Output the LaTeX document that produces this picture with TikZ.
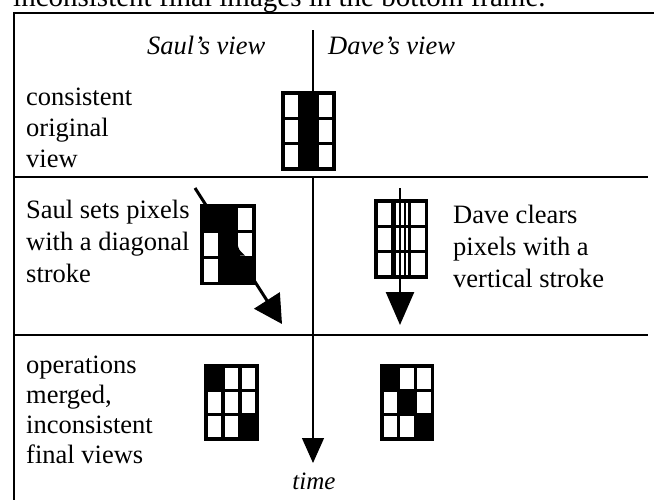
\documentclass[tikz,border=0pt]{standalone}
\usepackage{fontspec}
\setmainfont{Liberation Serif}
\usetikzlibrary{arrows.meta}
\newcommand\pixgrid[5]{%
  \foreach \c [count=\i from 0] in {#5} {
    \pgfmathtruncatemacro\col{mod(\i,3)}
    \pgfmathtruncatemacro\row{div(\i,3)}
    \filldraw[fill=\c, draw=black, line width=3.2pt]
      ({#1+\col*#3},{#2+\row*#4}) rectangle ++(#3,#4);
  }}
\begin{document}
\begin{tikzpicture}[x=1pt,y=-1pt,
  lbl/.style={anchor=base west, inner sep=0pt, font=\fontsize{26.5}{31}\selectfont},
  hdr/.style={anchor=base west, inner sep=0pt, font=\fontsize{26.5}{31}\selectfont\itshape},
  frameline/.style={line width=2.6pt},
  divline/.style={line width=1.8pt},
  thinline/.style={line width=1.2pt},
  stroke/.style={line width=3pt}]
\useasboundingbox (0,0) rectangle (654,499);
\clip (0,0) rectangle (654,499);

% caption text cut by the top edge (as in the reference)
\node[anchor=base west, inner sep=0pt, font=\fontsize{29}{34}\selectfont] (cap) at (13,6) {inconsistent final images in the bottom frame.};

% frame
\coordinate (fTL) at (14,13);
\coordinate (fTR) at (660,13);
\coordinate (fBL) at (14,505);
\draw[frameline] (fBL) -- (fTL) -- (fTR);
\coordinate (d1L) at (14,177);
\coordinate (d1R) at (648,177);
\coordinate (d2L) at (14,335);
\coordinate (d2R) at (648,335);
\draw[divline] (d1L) -- (d1R);
\draw[divline] (d2L) -- (d2R);

% headers
\node[hdr] (saulv) at (147,54) {Saul's view};
\node[hdr] (davev) at (328,54) {Dave's view};
\coordinate (sepT) at (313,30);
\coordinate (sepB) at (313,98);
\draw[thinline] (sepT) -- (sepB);

% row 1
\node[lbl] (c1) at (26,105.5) {consistent};
\node[lbl] (c2) at (26,136.5) {original};
\node[lbl] (c3) at (26,167.5) {view};
\pixgrid{283}{93}{17}{25.3}{white,black,white,white,black,white,white,black,white}

% row 2
\node[lbl] (s1) at (26,218) {Saul sets pixels};
\node[lbl] (s2) at (26,250) {with a diagonal};
\node[lbl] (s3) at (26,282) {stroke};
\pixgrid{202}{206}{17.3}{25.7}{black,black,white,white,black,white,white,black,black}
\fill[black] (237.5,244) .. controls (239,250) .. (245,255.5) -- (237.5,255.5) -- cycle;
\coordinate (sdA) at (195,188);
\coordinate (sdB) at (282,324);
\draw[stroke, -{Triangle[length=28pt,width=30pt]}] (sdA) -- (sdB);

\node[lbl] (v1) at (453,223) {Dave clears};
\node[lbl] (v2) at (453,255) {pixels with a};
\node[lbl] (v3) at (453,287) {vertical stroke};
\pixgrid{376}{201}{16.7}{25.3}{white,white,white,white,white,white,white,white,white}
\coordinate (dl1T) at (395,201);
\coordinate (dl1B) at (395,277);
\coordinate (dl2T) at (405,201);
\coordinate (dl2B) at (405,277);
\draw[line width=1.6pt] (dl1T) -- (dl1B);
\draw[line width=1.6pt] (dl2T) -- (dl2B);
\coordinate (dvA) at (400,188);
\coordinate (dvB) at (400,325);
\draw[line width=2.5pt, -{Triangle[length=33pt,width=28pt]}] (dvA) -- (dvB);

% row 3
\node[lbl] (o1) at (26,373) {operations};
\node[lbl] (o2) at (26,403) {merged,};
\node[lbl] (o3) at (26,433) {inconsistent};
\node[lbl] (o4) at (26,463) {final views};
\pixgrid{206}{366}{17}{24.3}{black,white,white,white,white,white,white,white,black}
\pixgrid{382}{366}{16.7}{24.3}{black,white,white,white,black,white,white,white,black}

% time arrow
\coordinate (tTop) at (313,177);
\coordinate (tTip) at (313,463);
\draw[thinline, -{Triangle[length=25pt,width=22pt]}] (tTop) -- (tTip);
\node[anchor=base, inner sep=0pt, font=\fontsize{25}{30}\selectfont\itshape] (time) at (314,489) {time};
\end{tikzpicture}
\end{document}
